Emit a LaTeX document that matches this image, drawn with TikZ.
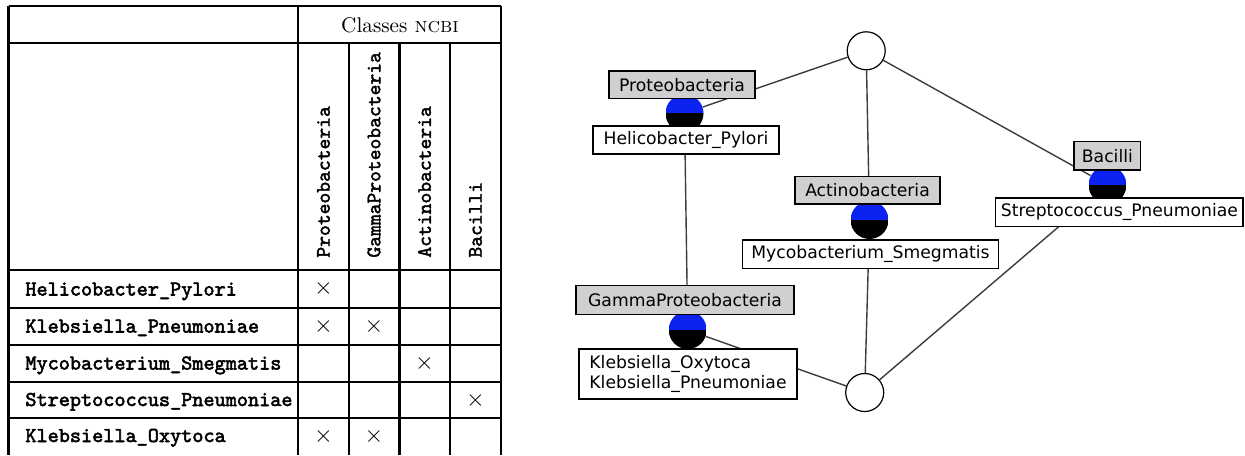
\documentclass[tikz,border=0pt]{standalone}
\usepackage{fontspec}
\newfontfamily\latfont{DejaVu Sans}
\newfontfamily\rowtt{Latin Modern Mono}[FakeBold=2.5]
\newfontfamily\headtt{Latin Modern Mono}[FakeBold=2]
\usetikzlibrary{backgrounds}
\definecolor{conceptblue}{RGB}{12,34,240}
\definecolor{labelgray}{RGB}{208,208,208}
\definecolor{edgegray}{RGB}{60,60,60}
\tikzset{
  tline/.style={line width=1.1pt,black},
  rowlabel/.style={anchor=base west,inner sep=0pt,font=\rowtt\bfseries\fontsize{10.6}{12}\selectfont},
  colhead/.style={rotate=90,anchor=west,inner sep=0pt,font=\headtt\bfseries\fontsize{10.3}{12}\selectfont},
  xmark/.style={inner sep=0pt,font=\fontsize{12}{12}\selectfont},
  lbox/.style={draw=black,line width=0.55pt,rectangle,inner sep=0pt,font=\latfont\fontsize{8.6}{10}\selectfont},
  attrbox/.style={lbox,fill=labelgray},
  objbox/.style={lbox,fill=white},
  emptyconcept/.style={circle,draw=black,line width=0.6pt,fill=white,minimum size=19pt,inner sep=0pt},
  fullconcept/.style={circle,minimum size=19pt,inner sep=0pt,
    path picture={
      \fill[conceptblue] (path picture bounding box.north west) rectangle (path picture bounding box.east);
      \fill[black] (path picture bounding box.west) rectangle (path picture bounding box.south east);
    }},
  latedge/.style={draw=edgegray,line width=0.7pt}
}
\begin{document}
\begin{tikzpicture}[x=0.5pt,y=-0.5pt]
\useasboundingbox (0,0) rectangle (1245,455);
% ---------------- table ----------------
\draw[tline] (8.5,6) -- (501,6);
\draw[tline] (8.5,43) -- (501,43);
\foreach \yy in {270,307.7,345,381.7,418} \draw[tline] (8.5,\yy) -- (501,\yy);
\draw[tline] (8.5,6) -- (8.5,455);
\draw[tline] (298,6) -- (298,455);
\draw[tline] (501,6) -- (501,455);
\foreach \xx in {349,399.5,450} \draw[tline] (\xx,43) -- (\xx,455);

\node[inner sep=0pt,font=\fontsize{10.6}{12}\selectfont] (classes) at (400,25) {Classes \textsc{ncbi}};

\node[colhead] (hProteo) at (323.5,258) {Proteobacteria};
\node[colhead] (hGamma) at (374,258) {GammaProteobacteria};
\node[colhead] (hActino) at (424.5,258) {Actinobacteria};
\node[colhead] (hBacilli) at (475.5,258) {Bacilli};

\node[rowlabel] (rHeli) at (25,295.5) {Helicobacter\_Pylori};
\node[rowlabel] (rKPn) at (25,332.5) {Klebsiella\_Pneumoniae};
\node[rowlabel] (rMyco) at (25,369.5) {Mycobacterium\_Smegmatis};
\node[rowlabel] (rStrep) at (25,406) {Streptococcus\_Pneumoniae};
\node[rowlabel] (rKOx) at (25,442) {Klebsiella\_Oxytoca};

\node[xmark] (x11) at (323.5,288.8) {$\times$};
\node[xmark] (x21) at (323.5,326.3) {$\times$};
\node[xmark] (x22) at (374,326.3) {$\times$};
\node[xmark] (x33) at (424.5,363.3) {$\times$};
\node[xmark] (x44) at (475.5,400) {$\times$};
\node[xmark] (x51) at (323.5,436.5) {$\times$};
\node[xmark] (x52) at (374,436.5) {$\times$};

% ---------------- lattice ----------------
\node[emptyconcept] (top) at (866.2,50.8) {};
\node[fullconcept] (proteoC) at (684.5,113.3) {};
\node[fullconcept] (actinoC) at (869.5,220) {};
\node[fullconcept] (bacilliC) at (1107.5,185) {};
\node[fullconcept] (gammaC) at (687.7,330) {};
\node[emptyconcept] (bottom) at (864.7,392.5) {};

\begin{scope}[on background layer]
\draw[latedge] (top) -- (proteoC);
\draw[latedge] (top) -- (actinoC);
\draw[latedge] (top) -- (bacilliC);
\draw[latedge] (proteoC) -- (gammaC);
\draw[latedge] (actinoC) -- (bottom);
\draw[latedge] (gammaC) -- (bottom);
\draw[latedge] (bacilliC) -- (bottom);
\end{scope}

\node[attrbox,minimum width=73pt,minimum height=13.85pt] (lProteo) at (682,84.85) {Proteobacteria};
\node[objbox,minimum width=93pt,minimum height=14pt] (lHeli) at (686,140) {Helicobacter\_Pylori};
\node[attrbox,minimum width=72.5pt,minimum height=13.65pt] (lActino) at (867.5,190.35) {Actinobacteria};
\node[objbox,minimum width=127.8pt,minimum height=14.15pt] (lMyco) at (870.5,254.15) {Mycobacterium\_Smegmatis};
\node[attrbox,minimum width=33.35pt,minimum height=14.15pt] (lBacilli) at (1107.35,155.85) {Bacilli};
\node[objbox,minimum width=123.65pt,minimum height=14.35pt] (lStrep) at (1119.35,212.35) {Streptococcus\_Pneumoniae};
\node[attrbox,minimum width=109pt,minimum height=14.3pt] (lGamma) at (685,300) {GammaProteobacteria};
\node[objbox,minimum width=109pt,minimum height=25pt,align=left] (lKleb) at (688,374) {Klebsiella\_Oxytoca\\Klebsiella\_Pneumoniae};
\end{tikzpicture}
\end{document}
